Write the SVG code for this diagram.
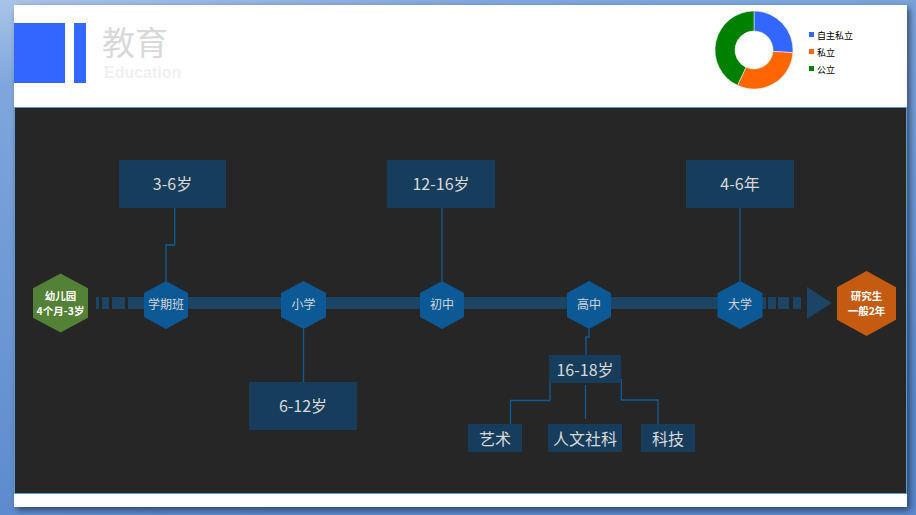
<svg xmlns="http://www.w3.org/2000/svg" width="916" height="515" viewBox="0 0 916 515">
<defs>
<linearGradient id="bg" x1="0" y1="0" x2="0.3" y2="1">
<stop offset="0" stop-color="#a9c4e8"/>
<stop offset="0.15" stop-color="#7fa6dc"/>
<stop offset="1" stop-color="#5a88cc"/>
</linearGradient>
<filter id="sh" x="-5%" y="-5%" width="110%" height="110%">
<feGaussianBlur in="SourceAlpha" stdDeviation="3"/>
<feOffset dx="3" dy="3"/>
<feComponentTransfer><feFuncA type="linear" slope="0.5"/></feComponentTransfer>
<feMerge><feMergeNode/><feMergeNode in="SourceGraphic"/></feMerge>
</filter>
</defs>
<style>
.hex{fill:#0b5c9b;opacity:0.95}
.hl{font-family:"Noto Sans CJK SC","Microsoft YaHei",sans-serif;font-size:12px;fill:#d6d6d6;text-anchor:middle}
.hw{font-family:"Noto Sans CJK SC",sans-serif;font-size:10.5px;font-weight:bold;fill:#ffffff;text-anchor:middle}
.box{fill:#173d5c}
.bl{font-family:"Noto Sans CJK SC","Open Sans",sans-serif;font-size:16px;fill:#d9d9d9;text-anchor:middle}
.bar{fill:#1b4465}
.con{fill:none;stroke:#0b5c9b;stroke-width:1.3}
.lg{font-family:"Noto Sans CJK SC",sans-serif;font-size:9px;fill:#000000}
</style>
<rect x="0" y="0" width="916" height="515" fill="url(#bg)"/>
<rect x="14" y="5" width="893" height="502" fill="#ffffff" filter="url(#sh)"/>
<g id="header">
<rect x="14" y="23" width="51" height="60" fill="#3366ff"/>
<rect x="74" y="23" width="12" height="60" fill="#3366ff"/>
<text x="102" y="55" font-family="Noto Sans CJK SC,sans-serif" font-size="33" fill="#d9d9d9">教育</text>
<text x="104" y="78" font-family="Liberation Sans,Arial,sans-serif" font-size="16" font-weight="bold" fill="#f0f0f0">Education</text>
</g>
<g id="chart">
<path d="M754,11 A39,39 0 0 1 792.9,52.7 L772.95,51.33 A19,19 0 0 0 754,31 Z" fill="#3366ff" stroke="#ffffff" stroke-width="0.5"/>
<path d="M792.9,52.7 A39,39 0 0 1 737.5,85.35 L745.97,67.22 A19,19 0 0 0 772.95,51.33 Z" fill="#ff6600" stroke="#ffffff" stroke-width="0.5"/>
<path d="M737.5,85.35 A39,39 0 0 1 754,11 L754,31 A19,19 0 0 0 745.97,67.22 Z" fill="#008000" stroke="#ffffff" stroke-width="0.5"/>
<rect x="809" y="32" width="5" height="5" fill="#3366ff"/>
<text class="lg" x="817" y="38.5">自主私立</text>
<rect x="809" y="49" width="5" height="5" fill="#ff6600"/>
<text class="lg" x="817" y="55.5">私立</text>
<rect x="809" y="66" width="5" height="5" fill="#008000"/>
<text class="lg" x="817" y="72.5">公立</text>
</g>
<rect x="14.5" y="107.5" width="892" height="386" fill="#262626" stroke="#5b9bd5" stroke-width="1"/>
<g id="timeline">
<rect class="bar" x="96" y="297" width="3" height="12"/>
<rect class="bar" x="102" y="297" width="7" height="12"/>
<rect class="bar" x="112" y="297" width="13" height="12"/>
<rect class="bar" x="128" y="297" width="638" height="12"/>
<rect class="bar" x="768" y="297" width="8" height="12"/>
<rect class="bar" x="778" y="297" width="11" height="12"/>
<rect class="bar" x="793" y="297" width="8" height="12"/>
<polygon class="bar" points="807,287 832,303 807,319"/>
</g>
<g id="connectors">
<polyline class="con" points="174.7,208 174.7,245 166,245 166,281"/>
<line class="con" x1="442" y1="208" x2="442" y2="281"/>
<line class="con" x1="740" y1="208" x2="740" y2="281"/>
<line class="con" x1="303.5" y1="329" x2="303.5" y2="382"/>
<polyline class="con" points="589,329 589,337 586,337 586,355"/>
<polyline class="con" points="550,380 550,400.5 510.5,400.5 510.5,424"/>
<line class="con" x1="585.5" y1="385" x2="585.5" y2="419"/>
<polyline class="con" points="621.3,379 621.3,400 658,400 658,424"/>
</g>
<g id="kindergarten">
<polygon points="60.5,273.5 88,288.25 88,317.75 60.5,332.5 33,317.75 33,288.25" fill="#538135"/>
<text class="hw" x="60.5" y="300">幼儿园</text>
<text class="hw" x="60.5" y="315">4个月-3岁</text>
</g>
<g id="xueqiban">
<polygon class="hex" points="166,281 188,293 188,317 166,329 144,317 144,293"/>
<text class="hl" x="166" y="309">学期班</text>
</g>
<g id="xiaoxue">
<polygon class="hex" points="303.5,281 326,293 326,317 303.5,329 281,317 281,293"/>
<text class="hl" x="303.5" y="309">小学</text>
</g>
<g id="chuzhong">
<polygon class="hex" points="442,281 464,293 464,317 442,329 420,317 420,293"/>
<text class="hl" x="442" y="309">初中</text>
</g>
<g id="gaozhong">
<polygon class="hex" points="589,281 611,293 611,317 589,329 567,317 567,293"/>
<text class="hl" x="589" y="309">高中</text>
</g>
<g id="daxue">
<polygon class="hex" points="740,281 762.5,293 762.5,317 740,329 717.5,317 717.5,293"/>
<text class="hl" x="740" y="309">大学</text>
</g>
<g id="yanjiusheng">
<polygon points="866.5,271 896,287.25 896,319.75 866.5,336 837,319.75 837,287.25" fill="#c55a11"/>
<text class="hw" x="866.5" y="299.5">研究生</text>
<text class="hw" x="866.5" y="314.5">一般2年</text>
</g>
<g id="box-3-6">
<rect class="box" x="119" y="160" width="107" height="48"/>
<text class="bl" x="172.5" y="190">3-6岁</text>
</g>
<g id="box-12-16">
<rect class="box" x="387" y="160" width="108" height="48"/>
<text class="bl" x="441" y="190">12-16岁</text>
</g>
<g id="box-4-6">
<rect class="box" x="686" y="160" width="108" height="48"/>
<text class="bl" x="740" y="190">4-6年</text>
</g>
<g id="box-6-12">
<rect class="box" x="249" y="382" width="108" height="48"/>
<text class="bl" x="303" y="412">6-12岁</text>
</g>
<g id="box-16-18">
<rect class="box" x="549" y="355" width="72" height="28"/>
<text class="bl" x="585" y="375.5">16-18岁</text>
</g>
<g id="box-art">
<rect class="box" x="468" y="424" width="54" height="28"/>
<text class="bl" x="495" y="444.5">艺术</text>
</g>
<g id="box-humanities">
<rect class="box" x="548" y="424" width="74" height="28"/>
<text class="bl" x="585" y="444.5">人文社科</text>
</g>
<g id="box-tech">
<rect class="box" x="641" y="424" width="54" height="28"/>
<text class="bl" x="668" y="444.5">科技</text>
</g>
</svg>
